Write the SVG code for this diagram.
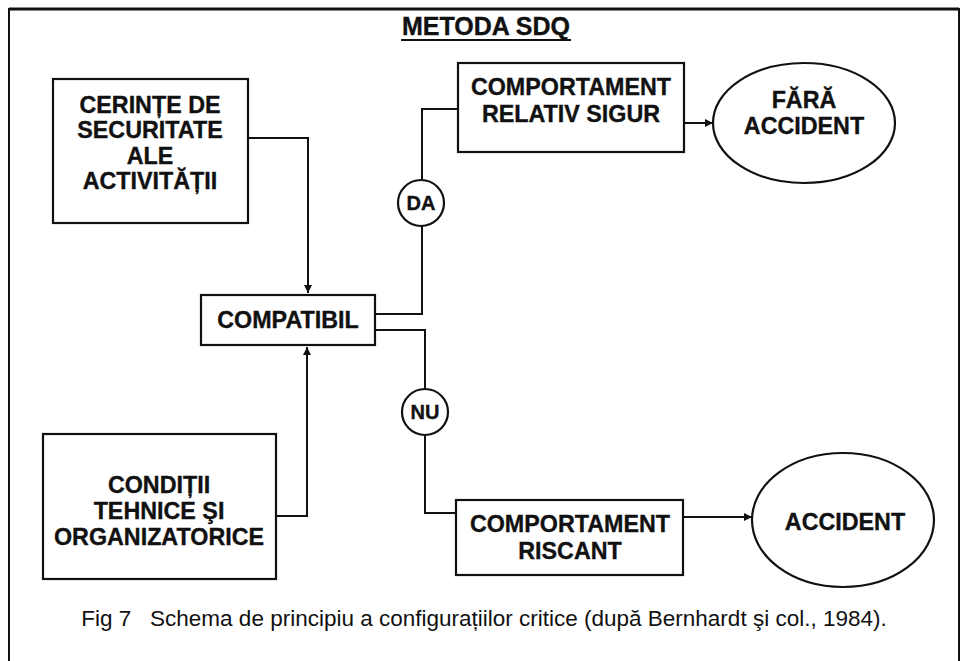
<svg xmlns="http://www.w3.org/2000/svg" width="963" height="661" viewBox="0 0 963 661">
<style>
.box{fill:#fff;stroke:#111;stroke-width:2.2}
.ell{fill:#fff;stroke:#111;stroke-width:2.2}
.lbl{font-family:"Liberation Sans",Arial,sans-serif;font-weight:bold;font-size:23.3px;fill:#111;stroke:#111;stroke-width:0.35;text-anchor:middle}
.small{font-size:20px}
.conn{fill:none;stroke:#111;stroke-width:2}
.cap{font-family:"Liberation Sans",Arial,sans-serif;font-size:22.5px;fill:#111}
</style>
<defs>
<marker id="arr" viewBox="0 0 10 10" refX="10" refY="5" markerWidth="9" markerHeight="8" markerUnits="userSpaceOnUse" orient="auto">
<path d="M0,0 L10,5 L0,10 z" fill="#111"/>
</marker>
</defs>
<rect width="963" height="661" fill="#fff"/>
<g id="frame">
<path d="M9,661 L9,9 L959,9 L959,661" fill="none" stroke="#111" stroke-width="2"/>
<line x1="9" y1="9" x2="959" y2="9" stroke="#111" stroke-width="3"/>
</g>
<g id="title">
<text class="lbl" x="486" y="35" style="font-size:25px">METODA SDQ</text>
<line x1="401" y1="40" x2="571" y2="40" stroke="#111" stroke-width="2"/>
</g>
<g id="connectors">
<path class="conn" d="M248,138 H308 V293" marker-end="url(#arr)"/>
<path class="conn" d="M276,516 H307 V347" marker-end="url(#arr)"/>
<path class="conn" d="M375,314 H422 V226"/>
<path class="conn" d="M422,180 V109 H458"/>
<path class="conn" d="M375,330 H425 V389"/>
<path class="conn" d="M425,435 V513 H456"/>
<path class="conn" d="M684,123 H713" marker-end="url(#arr)"/>
<path class="conn" d="M683,517 H752" marker-end="url(#arr)"/>
</g>
<g id="cerinte">
<rect class="box" x="53" y="79" width="195" height="144"/>
<text class="lbl" x="150" y="113">CERINȚE DE</text>
<text class="lbl" x="150" y="138">SECURITATE</text>
<text class="lbl" x="150" y="164">ALE</text>
<text class="lbl" x="150" y="189">ACTIVITĂȚII</text>
</g>
<g id="conditii">
<rect class="box" x="43" y="434" width="233" height="145"/>
<text class="lbl" x="159" y="493">CONDIȚII</text>
<text class="lbl" x="159" y="519">TEHNICE ŞI</text>
<text class="lbl" x="159" y="545">ORGANIZATORICE</text>
</g>
<g id="compatibil">
<rect class="box" x="201" y="295" width="174" height="50"/>
<text class="lbl" x="288" y="328">COMPATIBIL</text>
</g>
<g id="da">
<circle class="ell" cx="421" cy="203" r="23"/>
<text class="lbl small" x="421" y="210">DA</text>
</g>
<g id="nu">
<circle class="ell" cx="425" cy="412" r="23"/>
<text class="lbl small" x="425" y="419">NU</text>
</g>
<g id="comp-sigur">
<rect class="box" x="458" y="63" width="226" height="89"/>
<text class="lbl" x="571" y="95">COMPORTAMENT</text>
<text class="lbl" x="571" y="122">RELATIV SIGUR</text>
</g>
<g id="fara-accident">
<ellipse class="ell" cx="804" cy="123" rx="91" ry="60"/>
<text class="lbl" x="804" y="108">FĂRĂ</text>
<text class="lbl" x="804" y="134">ACCIDENT</text>
</g>
<g id="comp-riscant">
<rect class="box" x="456" y="500" width="227" height="75"/>
<text class="lbl" x="570" y="532">COMPORTAMENT</text>
<text class="lbl" x="570" y="559">RISCANT</text>
</g>
<g id="accident">
<ellipse class="ell" cx="843" cy="520" rx="91" ry="67"/>
<text class="lbl" x="845" y="530">ACCIDENT</text>
</g>
<g id="caption">
<text class="cap" x="484" y="626" text-anchor="middle" xml:space="preserve">Fig 7   Schema de principiu a configurațiilor critice (după Bernhardt şi col., 1984).</text>
</g>
</svg>
